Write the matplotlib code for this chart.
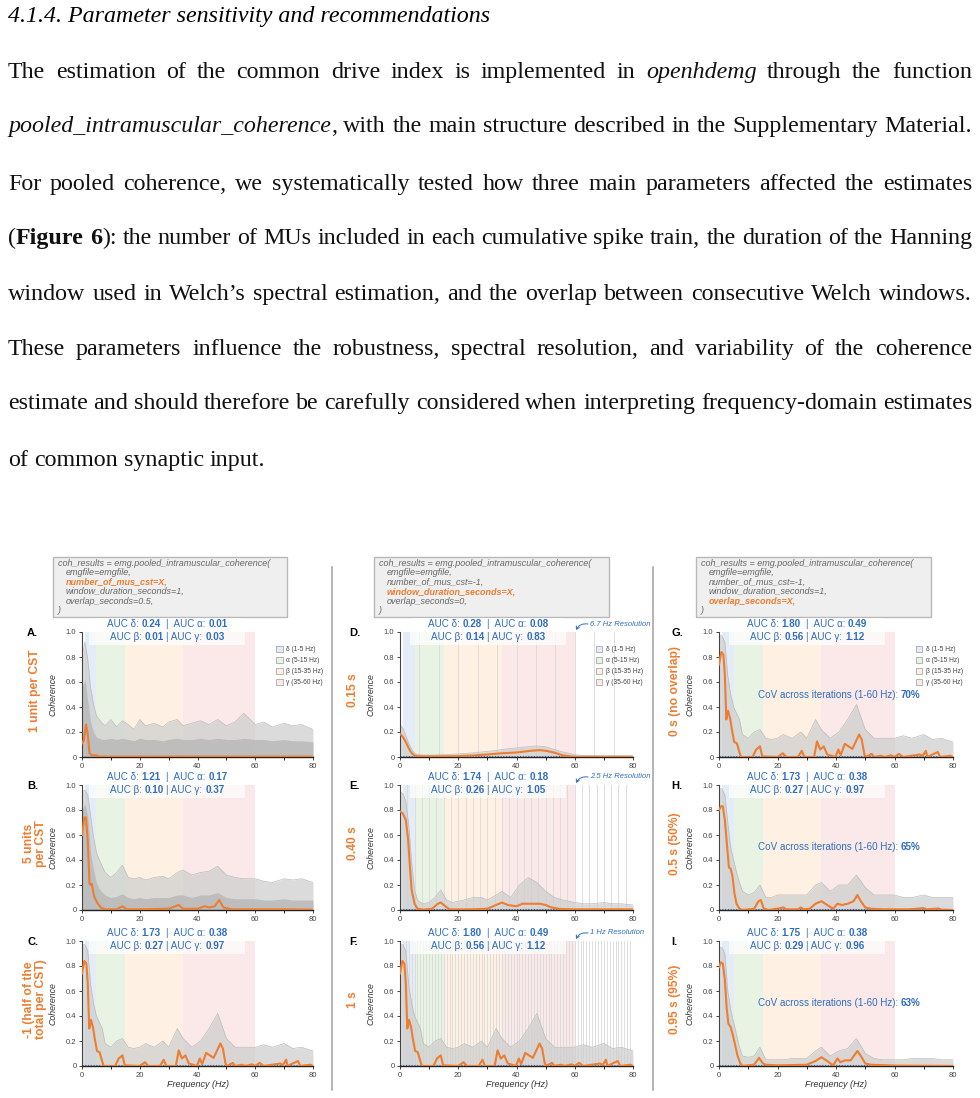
import re
import numpy as np
import matplotlib
matplotlib.use('Agg')
import matplotlib.pyplot as plt
from matplotlib.patches import Patch, Rectangle, FancyArrowPatch
from matplotlib.lines import Line2D

plt.rcParams['font.family'] = ['Liberation Sans', 'DejaVu Sans']

# ---------------- text of the page ----------------
heading = '4.1.4. Parameter sensitivity and recommendations'
paragraph = [
    'The estimation of the common drive index is implemented in *openhdemg* through the function',
    '*pooled_intramuscular_coherence*, with the main structure described in the Supplementary Material.',
    'For pooled coherence, we systematically tested how three main parameters affected the estimates',
    '(**Figure** **6**): the number of MUs included in each cumulative spike train, the duration of the Hanning',
    'window used in Welch\u2019s spectral estimation, and the overlap between consecutive Welch windows.',
    'These parameters influence the robustness, spectral resolution, and variability of the coherence',
    'estimate and should therefore be carefully considered when interpreting frequency-domain estimates',
    'of common synaptic input.',
]

# ---------------- panel annotations ----------------
panel_letters = ['A.', 'B.', 'C.', 'D.', 'E.', 'F.', 'G.', 'H.', 'I.']
row_labels = ['1 unit per CST', '5 units\nper CST', '-1 (half of the\ntotal per CST)',
              '0.15 s', '0.40 s', '1 s',
              '0 s (no overlap)', '0.5 s (50%)', '0.95 s (95%)']
auc_delta = ['0.24', '1.21', '1.73', '0.28', '1.74', '1.80', '1.80', '1.73', '1.75']
auc_alpha = ['0.01', '0.17', '0.38', '0.08', '0.18', '0.49', '0.49', '0.38', '0.38']
auc_beta = ['0.01', '0.10', '0.27', '0.14', '0.26', '0.56', '0.56', '0.27', '0.29']
auc_gamma = ['0.03', '0.37', '0.97', '0.83', '1.05', '1.12', '1.12', '0.97', '0.96']
cov_values = ['70%', '65%', '63%']
window_durations = [0.15, 0.40, 1.0]
resolution_labels = ['6.7 Hz Resolution', '2.5 Hz Resolution', '1 Hz Resolution']

code_head = ['coh_results = emg.pooled_intramuscular_coherence(', 'emgfile=emgfile,']
code_col1 = ['number_of_mus_cst=X,', 'window_duration_seconds=1,', 'overlap_seconds=0.5,']
code_col2 = ['number_of_mus_cst=-1,', 'window_duration_seconds=X,', 'overlap_seconds=0,']
code_col3 = ['number_of_mus_cst=-1,', 'window_duration_seconds=1,', 'overlap_seconds=X,']
code_highlight = [0, 1, 2]

bands = [(1, 5), (5, 15), (15, 35), (35, 60)]
band_labels = ['\u03b4 (1-5 Hz)', '\u03b1 (5-15 Hz)', '\u03b2 (15-35 Hz)', '\u03b3 (35-60 Hz)']
band_colors = ['#e4ecf7', '#e8f3e4', '#fef1e4', '#fae9e8']

# ---------------- coherence curves ----------------
a_hz = [0, 0.6, 1.4, 2.0, 2.6, 3.4, 5.0, 6.0, 20, 40, 60, 80]
a_mean = [0.11, 0.13, 0.26, 0.18, 0.03, 0.015, 0.013, 0.003, 0.003, 0.004, 0.003, 0.003]

b_hz = [0, 0.8, 1.4, 2.0, 2.6, 3.1, 3.4, 4.2, 5.2, 6.5, 8, 12, 14, 15.5, 20, 30, 33.5, 35,
        40, 42.5, 44, 46, 47.5, 49, 52, 60, 70, 80]
b_mean = [0.6, 0.74, 0.74, 0.55, 0.21, 0.2, 0.21, 0.11, 0.06, 0.02, 0.005, 0.005, 0.03, 0.005,
          0.005, 0.01, 0.04, 0.01, 0.01, 0.03, 0.02, 0.03, 0.08, 0.02, 0.005, 0.005, 0.005, 0.003]

d_hz = [0, 1, 2, 3, 4, 5, 6, 10, 15, 20, 25, 30, 35, 40, 45, 48, 50, 53, 56, 60, 70, 80]
d_mean = [0.185, 0.16, 0.12, 0.07, 0.03, 0.012, 0.006, 0.005, 0.005, 0.007, 0.012, 0.02, 0.03,
          0.036, 0.05, 0.055, 0.05, 0.035, 0.012, 0.002, 0.001, 0.001]

e_hz = [0, 1, 2, 2.8, 3.4, 4, 5, 6, 8, 11, 13, 14, 15, 17, 25, 30, 33, 35, 37, 40, 42, 45, 48,
        50, 52, 55, 60, 70, 80]
e_mean = [0.79, 0.77, 0.72, 0.56, 0.35, 0.16, 0.05, 0.01, 0.003, 0.01, 0.05, 0.06, 0.04, 0.005,
          0.005, 0.01, 0.04, 0.06, 0.04, 0.03, 0.05, 0.05, 0.05, 0.04, 0.02, 0.008, 0.005, 0.005, 0.005]

# full configuration (-1 MUs, 1 s window, 0 s overlap) used in C, F, G
f_hz = [0, 0.8, 1.5, 2.0, 2.5, 3.1, 3.8, 4.4, 5.2, 6.1, 6.9, 7.5, 11.5, 12.7, 14.0, 14.8, 20,
        21.8, 23, 27, 28.3, 29.2, 32.5, 33.5, 34.6, 35.8, 37, 39.8, 40.8, 41.6, 43, 45.6, 46.8,
        47.9, 48.8, 49.7, 50.2, 52.2, 53, 55.4, 56.5, 58.9, 60, 61.5, 62.9, 68.7, 69.5, 70.7,
        71.2, 74.8, 75.6, 79.1, 80]
f_mean = [0.74, 0.84, 0.82, 0.66, 0.30, 0.37, 0.31, 0.22, 0.12, 0.11, 0.045, 0.0, 0.0, 0.06,
          0.085, 0.005, 0.0, 0.03, 0.0, 0.0, 0.05, 0.0, 0.0, 0.125, 0.06, 0.085, 0.02, 0.0, 0.06,
          0.015, 0.105, 0.065, 0.125, 0.18, 0.14, 0.02, 0.0, 0.025, 0.0, 0.01, 0.0, 0.013, 0.0,
          0.025, 0.0, 0.02, 0.005, 0.05, 0.0, 0.04, 0.0, 0.01, 0.0]

h_hz = [0, 0.7, 1.3, 2, 2.8, 3.4, 4, 4.6, 5.3, 6, 7, 8, 12, 13.5, 14.3, 15.3, 17, 21, 22, 23,
        27, 28, 29, 31, 33, 35, 37, 39, 40.5, 42, 44, 46, 47.3, 48.5, 50, 52, 56, 60, 65, 70,
        71, 75, 76, 80]
h_mean = [0.8, 0.83, 0.83, 0.72, 0.5, 0.34, 0.33, 0.27, 0.13, 0.05, 0.01, 0, 0.01, 0.07, 0.08,
          0.01, 0, 0.015, 0.02, 0.005, 0.005, 0.02, 0.005, 0.01, 0.05, 0.07, 0.04, 0.01, 0.05,
          0.04, 0.05, 0.07, 0.12, 0.07, 0.02, 0.01, 0.005, 0.005, 0.005, 0.015, 0.005, 0.012,
          0.003, 0]

i_hz = [0, 0.6, 1.3, 2, 2.6, 3.2, 4, 4.6, 5.4, 6.3, 7.3, 8, 12, 13.7, 15, 16, 20, 30, 33, 35,
        37, 39, 40.5, 41.5, 43, 45, 47.3, 48.5, 50, 52, 60, 80]
i_mean = [0.79, 0.83, 0.82, 0.69, 0.47, 0.34, 0.31, 0.26, 0.18, 0.085, 0.02, 0, 0.01, 0.065,
          0.02, 0.01, 0.005, 0.01, 0.04, 0.07, 0.04, 0.005, 0.06, 0.03, 0.045, 0.045, 0.12, 0.08,
          0.02, 0.01, 0.003, 0]

# upper envelope of the grey iteration traces, on a shared frequency grid
env_hz = [0, 1, 2, 3, 4, 5, 6, 7, 8, 10, 12, 14, 16, 18, 20, 22, 25, 28, 30, 33, 35, 38, 41,
          44, 47, 50, 53, 56, 60, 63, 66, 70, 73, 76, 80]
a_env = [0.80, 0.92, 0.78, 0.55, 0.42, 0.33, 0.30, 0.27, 0.25, 0.30, 0.24, 0.29, 0.26, 0.22,
         0.30, 0.25, 0.27, 0.24, 0.28, 0.30, 0.25, 0.27, 0.29, 0.26, 0.30, 0.25, 0.28, 0.35,
         0.26, 0.28, 0.24, 0.27, 0.25, 0.26, 0.22]
a_core = [0.55, 0.62, 0.45, 0.28, 0.20, 0.16, 0.15, 0.14, 0.14, 0.15, 0.14, 0.15, 0.14, 0.13,
          0.15, 0.14, 0.14, 0.13, 0.14, 0.15, 0.14, 0.14, 0.15, 0.14, 0.15, 0.14, 0.14, 0.15,
          0.14, 0.14, 0.13, 0.14, 0.13, 0.13, 0.12]
b_env = [0.95, 0.96, 0.92, 0.75, 0.58, 0.46, 0.40, 0.35, 0.30, 0.26, 0.30, 0.36, 0.26, 0.25,
         0.26, 0.24, 0.26, 0.27, 0.25, 0.30, 0.32, 0.28, 0.30, 0.31, 0.35, 0.28, 0.26, 0.25,
         0.25, 0.23, 0.22, 0.25, 0.24, 0.25, 0.22]
b_core = [0.80, 0.85, 0.75, 0.45, 0.32, 0.22, 0.17, 0.14, 0.12, 0.10, 0.11, 0.13, 0.10, 0.09,
          0.10, 0.09, 0.10, 0.10, 0.10, 0.12, 0.12, 0.10, 0.12, 0.12, 0.14, 0.10, 0.09, 0.09,
          0.09, 0.08, 0.08, 0.09, 0.08, 0.08, 0.08]
d_env = [0.26, 0.23, 0.17, 0.11, 0.06, 0.03, 0.02, 0.018, 0.016, 0.015, 0.016, 0.018, 0.02,
         0.022, 0.025, 0.028, 0.033, 0.04, 0.045, 0.052, 0.06, 0.068, 0.075, 0.082, 0.088, 0.082,
         0.06, 0.04, 0.018, 0.012, 0.012, 0.015, 0.012, 0.011, 0.01]
e_env = [0.95, 0.93, 0.87, 0.68, 0.38, 0.16, 0.08, 0.06, 0.05, 0.06, 0.10, 0.16, 0.08, 0.06,
         0.07, 0.08, 0.10, 0.10, 0.08, 0.12, 0.15, 0.10, 0.20, 0.26, 0.22, 0.15, 0.10, 0.08,
         0.06, 0.05, 0.05, 0.06, 0.05, 0.05, 0.04]
f_env = [0.97, 0.97, 0.92, 0.65, 0.50, 0.40, 0.35, 0.30, 0.18, 0.15, 0.20, 0.22, 0.15, 0.14,
         0.15, 0.18, 0.15, 0.20, 0.15, 0.30, 0.22, 0.15, 0.20, 0.30, 0.42, 0.22, 0.15, 0.15,
         0.15, 0.17, 0.15, 0.18, 0.14, 0.15, 0.12]
h_env = [0.97, 0.97, 0.92, 0.70, 0.50, 0.40, 0.30, 0.22, 0.15, 0.12, 0.14, 0.20, 0.10, 0.10,
         0.12, 0.12, 0.12, 0.12, 0.12, 0.20, 0.22, 0.15, 0.20, 0.20, 0.28, 0.18, 0.12, 0.12,
         0.12, 0.10, 0.10, 0.12, 0.10, 0.10, 0.10]
i_env = [0.95, 0.95, 0.90, 0.60, 0.45, 0.35, 0.25, 0.15, 0.08, 0.07, 0.08, 0.15, 0.05, 0.05,
         0.05, 0.05, 0.06, 0.06, 0.06, 0.12, 0.15, 0.08, 0.12, 0.14, 0.22, 0.10, 0.06, 0.05,
         0.05, 0.05, 0.06, 0.06, 0.06, 0.05, 0.05]
sig_level = 0.008

means = [(a_hz, a_mean), (b_hz, b_mean), (f_hz, f_mean), (d_hz, d_mean), (e_hz, e_mean),
         (f_hz, f_mean), (f_hz, f_mean), (h_hz, h_mean), (i_hz, i_mean)]
envs = [a_env, b_env, f_env, d_env, e_env, f_env, f_env, h_env, i_env]
cores = [a_core, b_core, None, None, None, None, None, None, None]

ORANGE = '#ED7D31'
BLUE = '#2F6DC0'

W, H = 980, 1098
fig = plt.figure(figsize=(W / 100, H / 100), dpi=100)
renderer = fig.canvas.get_renderer()


def fx(px):
    return px / W


def fy(py):
    return 1 - py / H


STY = {'n': {}, 'i': {'fontstyle': 'italic'}, 'b': {'fontweight': 'bold'}}


def measure(s, **kw):
    t = fig.text(0, 0, s, **kw)
    w = t.get_window_extent(renderer).width
    t.remove()
    return w


def seg_parts(segs, size, family):
    parts = []
    for s, st in segs:
        core = s.strip(' ')
        kw = dict(fontsize=size, fontfamily=family, **STY[st])
        sp = measure('a a', **kw) - measure('aa', **kw)
        lead = (len(s) - len(s.lstrip(' '))) * sp
        trail = (len(s) - len(s.rstrip(' '))) * sp
        parts.append((core, kw, lead, measure(core, **kw) if core else 0, trail))
    return parts


def rich(x, y, segs, size, family, color, ha='left', va='baseline'):
    parts = seg_parts(segs, size, family)
    total = sum(p[2] + p[3] + p[4] for p in parts)
    cur = x - total / 2 if ha == 'center' else x
    left = cur
    for core, kw, lead, w, trail in parts:
        cur += lead
        if core:
            fig.text(fx(cur), fy(y), core, color=color, va=va, ha='left', zorder=6, **kw)
        cur += w + trail
    return left, total


def parse(line):
    words = []
    for w in line.split(' '):
        segs = []
        for piece in re.split(r'(\*\*[^*]+\*\*|\*[^*]+\*)', w):
            if not piece:
                continue
            if piece.startswith('**'):
                segs.append((piece[2:-2], 'b'))
            elif piece.startswith('*'):
                segs.append((piece[1:-1], 'i'))
            else:
                segs.append((piece, 'n'))
        words.append(segs)
    return words


# ---------------- paragraph ----------------
SERIF = 'Liberation Serif'
X0, X1 = 8, 972
probe = parse(paragraph[1])
w14 = sum(sum(p[3] for p in seg_parts(wd, 14, SERIF)) for wd in probe)
sp14 = measure('a a', fontsize=14, fontfamily=SERIF) - measure('aa', fontsize=14, fontfamily=SERIF)
psize = 14 * (X1 - X0 - 2) / (w14 + sp14 * (len(probe) - 1))

fig.text(fx(8), fy(22), heading, fontsize=psize, fontfamily=SERIF, fontstyle='italic', va='baseline')
baselines = [78, 132, 190, 244, 300, 355, 409, 466]
for k, (line, yb) in enumerate(zip(paragraph, baselines)):
    words = parse(line)
    widths = [seg_parts(wd, psize, SERIF) for wd in words]
    wsum = [sum(p[3] for p in ps) for ps in widths]
    sp = measure('a a', fontsize=psize, fontfamily=SERIF) - measure('aa', fontsize=psize, fontfamily=SERIF)
    last = k == len(paragraph) - 1
    gap = sp if last else (X1 - X0 - sum(wsum)) / (len(words) - 1)
    x = X0
    for ps, ww in zip(widths, wsum):
        cx = x
        for core, kw, lead, w, trail in ps:
            fig.text(fx(cx), fy(yb), core, va='baseline', ha='left', color='#111111', **kw)
            cx += w
        x += ww + gap

# ---------------- column separators and code boxes ----------------
for xs in (332, 653):
    fig.add_artist(Line2D([fx(xs), fx(xs)], [fy(567), fy(1090)], color='#a0a0a0', lw=1.1))

box_x = [(53, 287), (374, 609), (696, 931)]
for col, (bx0, bx1) in enumerate(box_x):
    fig.add_artist(Rectangle((fx(bx0), fy(617)), (bx1 - bx0) / W, 60 / H, transform=fig.transFigure,
                             facecolor='#efefef', edgecolor='#b8b8b8', lw=1.0))
    body = [code_col1, code_col2, code_col3][col]
    lines = code_head + body + [')']
    for j, s in enumerate(lines):
        indent = 0 if j in (0, len(lines) - 1) else 8
        hl = j == 2 + code_highlight[col]
        fig.text(fx(bx0 + 5 + indent), fy(563 + 9.5 * j), s, fontsize=6.5, fontstyle='italic',
                 color=ORANGE if hl else '#666666', fontweight='bold' if hl else 'normal', va='center')

# ---------------- panels ----------------
col_x = [(82, 313), (400, 633), (719, 953)]
row_y = [(632, 757), (785, 910), (941, 1066)]
auc_cx = [167, 488, 807]
letter_x = [27, 349, 671]
rowlab_x = [35, 353, 675]

for i in range(9):
    col, row = divmod(i, 3)
    x0, x1 = col_x[col]
    y0, y1 = row_y[row]
    ax = fig.add_axes([fx(x0), fy(y1), (x1 - x0) / W, (y1 - y0) / H])
    ax.set_xlim(0, 80)
    ax.set_ylim(0, 1)
    ax.patch.set_alpha(0)
    for (lo, hi), c in zip(bands, band_colors):
        ax.axvspan(lo, hi, color=c, lw=0, zorder=0)
    if col == 1:
        step = 1 / window_durations[row]
        for f in np.arange(step, 80, step):
            ax.axvline(f, color='#d9d9d9', lw=0.6, zorder=0.5)
    ax.fill_between(env_hz, 0, envs[i], color='#cdcdcd', alpha=0.7, lw=0, zorder=1)
    ax.plot(env_hz, envs[i], color='#bcbcbc', lw=0.5, zorder=1.1)
    if cores[i] is not None:
        ax.fill_between(env_hz, 0, cores[i], color='#b5b5b5', alpha=0.75, lw=0, zorder=1.2)
    if i >= 2:
        ax.axhline(sig_level, color='#4a6fb5', lw=0.8, ls=(0, (1, 1.5)), zorder=2.5)
    hz, m = means[i]
    ax.plot(hz, m, color=ORANGE, lw=1.5, zorder=3, solid_joinstyle='round')

    for sname in ('top', 'right'):
        ax.spines[sname].set_visible(False)
    ax.spines['left'].set_color('#444444')
    ax.spines['left'].set_linewidth(0.8)
    ax.spines['bottom'].set_color('#222222')
    ax.spines['bottom'].set_linewidth(1.0)
    ax.set_yticks([0, 0.2, 0.4, 0.6, 0.8, 1.0])
    ax.set_yticklabels(['0', '0.2', '0.4', '0.6', '0.8', '1.0'])
    ax.set_xticks([0, 20, 40, 60, 80])
    ax.set_xticks([10, 30, 50, 70], minor=True)
    ax.tick_params(labelsize=5.5, labelcolor='#444444', length=2.5, width=0.7, pad=1.5, colors='#444444')
    ax.tick_params(which='minor', length=1.8, width=0.6)
    ax.set_ylabel('Coherence', fontsize=6.3, fontstyle='italic', color='#333333')
    ax.yaxis.set_label_coords(-0.105, 0.5)
    if row == 2:
        ax.set_xlabel('Frequency (Hz)', fontsize=6.5, fontstyle='italic', color='#333333', labelpad=1)

    if row == 0:
        handles = [Patch(facecolor=c, edgecolor='#9a9a9a', lw=0.5, label=l)
                   for c, l in zip(band_colors, band_labels)]
        leg = ax.legend(handles=handles, loc='upper left', bbox_to_anchor=(0.84, 0.89), frameon=False,
                        fontsize=4.8, handlelength=1.0, handleheight=1.0, handletextpad=0.5,
                        labelspacing=0.55, borderaxespad=0, borderpad=0)
        for t in leg.get_texts():
            t.set_color('#444444')

    # AUC annotation with a white backing
    l1 = [('AUC \u03b4: ', 'n'), (auc_delta[i], 'b'), ('  |  AUC \u03b1: ', 'n'), (auc_alpha[i], 'b')]
    l2 = [('AUC \u03b2: ', 'n'), (auc_beta[i], 'b'), (' | AUC \u03b3: ', 'n'), (auc_gamma[i], 'b')]
    left, tw = rich(auc_cx[col], y0 - 5, l1, 7.1, 'Liberation Sans', BLUE, ha='center')
    rich(auc_cx[col], y0 + 8, l2, 7.1, 'Liberation Sans', BLUE, ha='center')
    fig.add_artist(Rectangle((fx(left - 18), fy(y0 + 13)), (tw + 36) / W, 27 / H,
                             transform=fig.transFigure, facecolor='white', alpha=0.7, lw=0, zorder=4))

    if col == 2:
        rich(x0 + (41 / 80) * (x1 - x0), y1 - 0.5 * (y1 - y0) + 3,
             [('CoV across iterations (1-60 Hz): ', 'n'), (cov_values[row], 'b')],
             7.1, 'Liberation Sans', BLUE, ha='center')
    if col == 1:
        fig.text(fx(590), fy(y0 - 8), resolution_labels[row], fontsize=5.5, fontstyle='italic',
                 color=BLUE, va='center', ha='left')
        fig.add_artist(FancyArrowPatch(posA=(fx(588), fy(y0 - 8)), posB=(fx(576), fy(y0 - 2)),
                                       transform=fig.transFigure, arrowstyle='->,head_length=2,head_width=1.2',
                                       mutation_scale=1, connectionstyle='arc3,rad=0.35',
                                       color=BLUE, lw=0.7, shrinkA=0, shrinkB=0))

    fig.text(fx(letter_x[col]), fy(y0 + 1), panel_letters[i], fontsize=8, fontweight='bold',
             va='center', ha='left')
    fig.text(fx(rowlab_x[col]), fy((y0 + y1) / 2 - 4), row_labels[i], rotation=90, ha='center',
             va='center', color=ORANGE, fontweight='bold', fontsize=8.7, linespacing=1.1,
             multialignment='center')

fig.savefig('out.png', dpi=100)
